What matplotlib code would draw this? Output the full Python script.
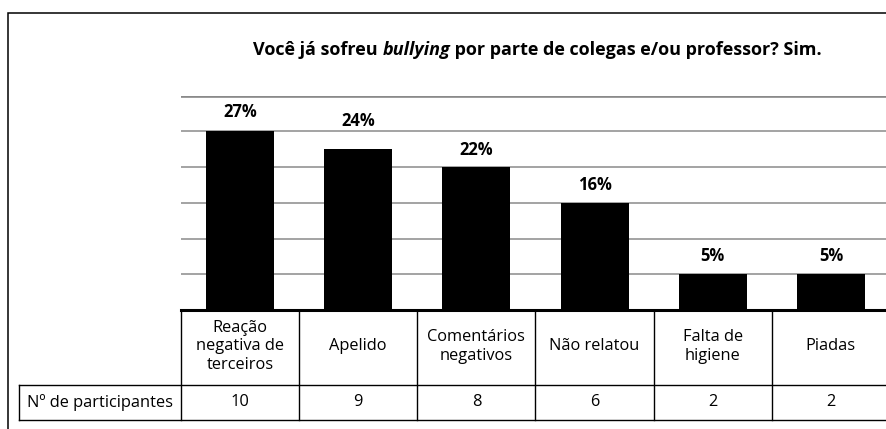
import matplotlib
matplotlib.use("Agg")
import matplotlib.pyplot as plt
from matplotlib.transforms import blended_transform_factory
from matplotlib.patches import Rectangle
from matplotlib.lines import Line2D

# ---- data ----
categories = ["Reação\nnegativa de\nterceiros", "Apelido", "Comentários\nnegativos",
              "Não relatou", "Falta de\nhigiene", "Piadas"]
participants = [10, 9, 8, 6, 2, 2]
percent_labels = ["27%", "24%", "22%", "16%", "5%", "5%"]
row_label = "Nº de participantes"
title_parts = ["Você já sofreu ", "bullying", " por parte de colegas e/ou professor? Sim."]
yticks = [2, 4, 6, 8, 10, 12]

# ---- styling ----
FONT = "Open Sans"
plt.rcParams["font.family"] = [FONT, "DejaVu Sans"]
W, H = 887, 429
DPI = 100
label_offsets_px = [19, 28, 17, 18, 18, 18]
TITLE_WIDTH_PX = 570
TXT = 11.8

def fx(px):
    return px / W

def fy(py):
    return 1 - py / H

fig = plt.figure(figsize=(W / DPI, H / DPI), dpi=DPI)
fig.patch.set_facecolor("white")

# outer frame (cut off on right/bottom as in the reference)
fig.add_artist(Rectangle((fx(8), fy(460)), fx(900) - fx(8), fy(13) - fy(460),
                         transform=fig.transFigure, fill=False, lw=1.1, ec="black"))

# plot area
left_px, right_px, top_px, base_px = 181, 890, 95.7, 310
ax = fig.add_axes([fx(left_px), fy(base_px), fx(right_px) - fx(left_px), fy(top_px) - fy(base_px)])
ax.set_xlim(-0.5, len(categories) - 0.5)
ax.set_ylim(0, 12)
for s in ax.spines.values():
    s.set_visible(False)
ax.set_xticks([])
ax.set_yticks([])
for t in yticks:
    ax.axhline(t, color="#8a8a8a", lw=1.9 if t == 12 else 1.1, zorder=0)

x = list(range(len(categories)))
ax.bar(x, participants, width=0.575, color="black", zorder=2)
for xi, v, lab, off in zip(x, participants, percent_labels, label_offsets_px):
    ax.annotate(lab, (xi, v), xytext=(0, off * 72 / DPI), textcoords="offset points",
                ha="center", va="center", fontsize=12, fontweight="bold",
                annotation_clip=False)

# table below the axis
tr = blended_transform_factory(ax.transData, fig.transFigure)
col_w_px = (right_px - left_px) / len(categories)
left_cell_x = -0.5 - (left_px - 19) / col_w_px
row1_bot, row2_bot = 385, 420

fig.add_artist(Line2D([-0.5, len(categories) - 0.5], [fy(base_px)] * 2, transform=tr,
                      color="black", lw=2.2))
for yy in (row1_bot, row2_bot):
    fig.add_artist(Line2D([left_cell_x, len(categories) - 0.5], [fy(yy)] * 2, transform=tr,
                          color="black", lw=1.0))
fig.add_artist(Line2D([left_cell_x] * 2, [fy(row1_bot), fy(row2_bot)], transform=tr,
                      color="black", lw=1.0))
for i in range(len(categories) + 1):
    fig.add_artist(Line2D([i - 0.5] * 2, [fy(base_px), fy(row2_bot)], transform=tr,
                          color="black", lw=1.0))

for xi, cat, n in zip(x, categories, participants):
    fig.text(xi, fy((base_px + row1_bot) / 2 - 1), cat, transform=tr, ha="center", va="center",
             fontsize=TXT, linespacing=1.2)
    fig.text(xi, fy((row1_bot + row2_bot) / 2), str(n), transform=tr, ha="center",
             va="center", fontsize=TXT)
fig.text((left_cell_x - 0.5) / 2, fy((row1_bot + row2_bot) / 2), row_label, transform=tr,
         ha="center", va="center", fontsize=TXT)

# title with bold-italic word, sized to the reference width
renderer = fig.canvas.get_renderer()
styles = ["normal", "italic", "normal"]
base_size = 12
tmp = [fig.text(0, 0, p, fontsize=base_size, fontweight="bold", fontstyle=s)
       for p, s in zip(title_parts, styles)]
widths = [t.get_window_extent(renderer).width for t in tmp]
for t in tmp:
    t.remove()
scale = TITLE_WIDTH_PX / sum(widths)
tsize = base_size * scale
widths = [w * scale for w in widths]
start = 538 - TITLE_WIDTH_PX / 2
for p, s, w in zip(title_parts, styles, widths):
    fig.text(fx(start), fy(50), p, fontsize=tsize, fontweight="bold", fontstyle=s,
             ha="left", va="center")
    start += w

fig.savefig("out.png", dpi=DPI)
